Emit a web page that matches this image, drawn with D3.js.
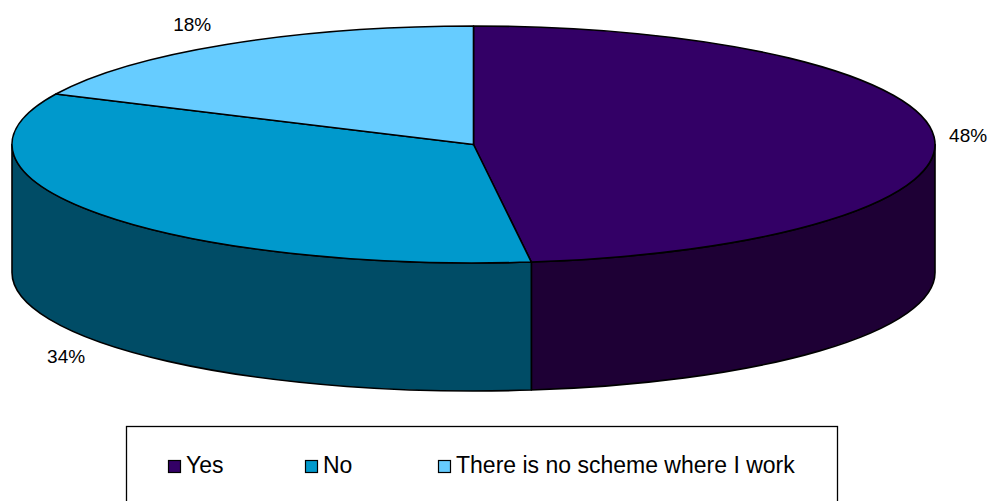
<!DOCTYPE html>
<html>
<head>
<meta charset="utf-8">
<script src="https://cdn.jsdelivr.net/npm/d3@7/dist/d3.min.js"></script>
<style>
  html, body { margin: 0; padding: 0; background: #fff; }
  svg { display: block; font-family: "Liberation Sans", Arial, sans-serif; }
</style>
</head>
<body>
<svg id="chart" width="991" height="501"></svg>
<script>
// Survey answers, shares in percent
const categories = ["Yes", "No", "There is no scheme where I work"];
const values = [48, 34, 18];
const topColors = ["#330066", "#0099CC", "#66CCFF"];
const sideColors = ["#1e0035", "#004c66", "#336680"];

const W = 991, H = 501;
const cx = 473.5, cy = 144.5;   // centre of the top ellipse
const rx = 461.5, ry = 118.5;   // ellipse radii
const depth = 128;              // height of the cylinder wall

const svg = d3.select("#chart");

const pie = d3.pie().sort(null).value(d => d.value);
const arcs = pie(categories.map((c, i) => ({ name: c, value: values[i], i })));

// angle measured clockwise from 12 o'clock, as d3.pie gives it
const px = a => cx + rx * Math.sin(a);
const py = (a, dy = 0) => cy - ry * Math.cos(a) + dy;

function topPath(a0, a1) {
  const large = (a1 - a0) > Math.PI ? 1 : 0;
  return `M${cx},${cy}L${px(a0)},${py(a0)}` +
         `A${rx},${ry} 0 ${large} 1 ${px(a1)},${py(a1)}Z`;
}

function sidePath(a0, a1) {
  const large = (a1 - a0) > Math.PI ? 1 : 0;
  return `M${px(a0)},${py(a0)}` +
         `A${rx},${ry} 0 ${large} 1 ${px(a1)},${py(a1)}` +
         `L${px(a1)},${py(a1, depth)}` +
         `A${rx},${ry} 0 ${large} 0 ${px(a0)},${py(a0, depth)}Z`;
}

// visible wall: the front half of the cylinder (3 o'clock round to 9 o'clock)
const front0 = Math.PI / 2, front1 = 3 * Math.PI / 2;
const walls = arcs
  .map(d => ({ d, a0: Math.max(d.startAngle, front0), a1: Math.min(d.endAngle, front1) }))
  .filter(s => s.a1 > s.a0);

svg.append("g").selectAll("path")
  .data(walls)
  .join("path")
  .attr("d", s => sidePath(s.a0, s.a1))
  .attr("fill", s => sideColors[s.d.data.i])
  .attr("stroke", "#000")
  .attr("stroke-width", 1.6)
  .attr("stroke-linejoin", "round");

svg.append("g").selectAll("path")
  .data(arcs)
  .join("path")
  .attr("d", d => topPath(d.startAngle, d.endAngle))
  .attr("fill", d => topColors[d.data.i])
  .attr("stroke", "#000")
  .attr("stroke-width", 1.6)
  .attr("stroke-linejoin", "round");

// percentage labels just outside the rim
svg.append("g").selectAll("text")
  .data(arcs)
  .join("text")
  .each(function (d) {
    const m = (d.startAngle + d.endAngle) / 2;
    const s = Math.sin(m), c = Math.cos(m);
    const x = px(m) + (s >= 0 ? 34 : -34);
    const y = py(m, c < 0 ? depth : 0) - c * 24;
    d3.select(this).attr("x", x).attr("y", y);
  })
  .attr("text-anchor", "middle")
  .attr("dominant-baseline", "central")
  .attr("font-size", 19)
  .attr("fill", "#000")
  .text(d => `${d.data.value}%`);

// legend
const legend = svg.append("g");
legend.append("rect")
  .attr("x", 126.5).attr("y", 426.5)
  .attr("width", 711).attr("height", 100)
  .attr("fill", "#fff")
  .attr("stroke", "#000")
  .attr("stroke-width", 1.3);

const legendX = [168, 305, 438];
const item = legend.selectAll("g.item")
  .data(categories)
  .join("g")
  .attr("class", "item")
  .attr("transform", (d, i) => `translate(${legendX[i]},0)`);

item.append("rect")
  .attr("x", 0.5).attr("y", 460.5)
  .attr("width", 12).attr("height", 12)
  .attr("fill", (d, i) => topColors[i])
  .attr("stroke", "#000")
  .attr("stroke-width", 1.2);

item.append("text")
  .attr("x", 18)
  .attr("y", 473)
  .attr("font-size", 23)
  .attr("fill", "#000")
  .text(d => d);
</script>
</body>
</html>
